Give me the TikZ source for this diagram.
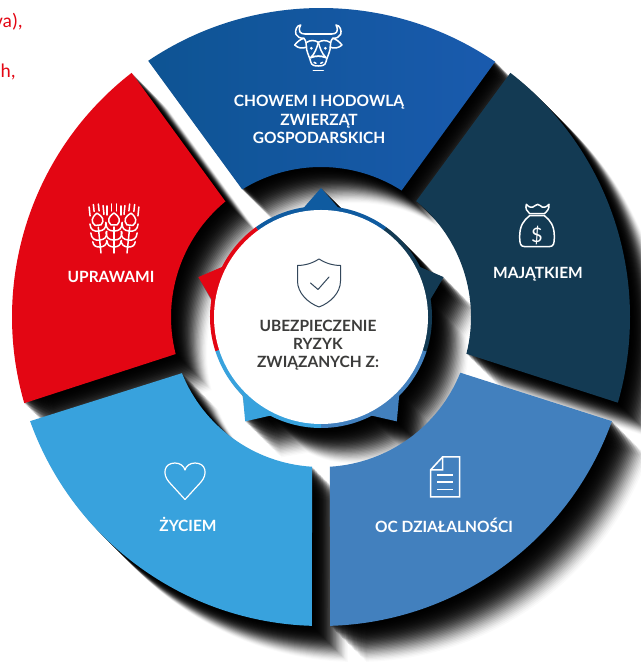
\documentclass[tikz,border=0pt]{standalone}
\usepackage{fontspec}
\setmainfont{Lato}
\newfontfamily\carlito{Carlito}
\definecolor{cred}{HTML}{E30613}
\definecolor{cblue}{HTML}{0F5BA0}
\definecolor{cdark}{HTML}{133A53}
\definecolor{coc}{HTML}{4280BE}
\definecolor{clife}{HTML}{38A2DD}
\definecolor{cink}{HTML}{3C3C3B}
\definecolor{cshield}{HTML}{33475B}
\newcommand\segA{(55.7:309) arc[start angle=55.7,end angle=124,radius=309] -- (121.7:150) arc[start angle=121.7,end angle=57.5,radius=150] -- cycle}
\newcommand\segB{(127.8:309) arc[start angle=127.8,end angle=196.2,radius=309] -- (194.3:150) arc[start angle=194.3,end angle=129.6,radius=150] -- cycle}
\newcommand\segC{(52.2:309) arc[start angle=52.2,end angle=-16.1,radius=309] -- (-14.2:150) arc[start angle=-14.2,end angle=50.6,radius=150] -- cycle}
\newcommand\segD{(199.7:309) arc[start angle=199.7,end angle=268.3,radius=309] -- (266.6:150) arc[start angle=266.6,end angle=202,radius=150] -- cycle}
\newcommand\segE{(-19.7:309) arc[start angle=-19.7,end angle=-88.3,radius=309] -- (-86.6:150) arc[start angle=-86.6,end angle=-21.8,radius=150] -- cycle}
\newcommand\hub{(0,0) circle[radius=111] (80:111) -- (90:129) -- (100:111) -- cycle (152:111) -- (162:129) -- (172:111) -- cycle (8:111) -- (18:129) -- (28:111) -- cycle (224:111) -- (234:129) -- (244:111) -- cycle (296:111) -- (306:129) -- (316:111) -- cycle}
\tikzset{
  softshadow/.style={fill=black,draw=none},
  lineicon/.style={draw=white,line width=1.5pt,line cap=round,line join=round,fill=none},
  label/.style={text=white,font=\fontsize{15.5}{18.5}\selectfont\bfseries,align=center,inner sep=0pt},
  hubtext/.style={text=cink,font=\fontsize{15.5}{18.3}\selectfont\bfseries,align=center,inner sep=0pt},
  redtext/.style={text=cred,font=\carlito\fontsize{19.5}{25}\selectfont,anchor=base east,inner sep=0pt},
}
\begin{document}
\begin{tikzpicture}[x=1pt,y=1pt]
\useasboundingbox (0,0) rectangle (640,666);
\fill[white] (0,0) rectangle (640,666);
\begin{scope}[cm={1,0,0,-1,(0,666)}]
  \node[redtext] (t1) at (23,28) {va),};
  \node[redtext] (t2) at (16,78) {h,};
\end{scope}
\begin{scope}[shift={(321,349)}]
  \foreach \k in {30,29,...,1}{
    \pgfmathsetmacro{\op}{0.018+0.25*(1-\k/30)}
    \begin{scope}[shift={(1.2*\k,-1.2*\k)}]
    \fill[softshadow,fill opacity=\op] \segA;
    \fill[softshadow,fill opacity=\op] \segB;
    \fill[softshadow,fill opacity=\op] \segC;
    \fill[softshadow,fill opacity=\op] \segD;
    \fill[softshadow,fill opacity=\op] \segE;
    \fill[softshadow,fill opacity=\op] \hub;
    \end{scope}
  }
  \fill[cred] \segB;
  \shade[left color=cblue!92!black,right color=cblue!90!blue!95!white] \segA;
  \fill[cdark] \segC;
  \fill[clife] \segD;
  \fill[coc] \segE;
  \fill[cblue] (80:109) -- (90:129) -- (100:109) -- cycle;
  \fill[cred] (152:109) -- (162:129) -- (172:109) -- cycle;
  \fill[cdark] (8:109) -- (18:129) -- (28:109) -- cycle;
  \fill[clife] (224:109) -- (234:129) -- (244:109) -- cycle;
  \fill[coc] (296:109) -- (306:129) -- (316:109) -- cycle;
  \fill[cblue] (0,0) -- (54:111) arc[start angle=54,end angle=126,radius=111] -- cycle;
  \fill[cred] (0,0) -- (126:111) arc[start angle=126,end angle=198,radius=111] -- cycle;
  \fill[clife] (0,0) -- (198:111) arc[start angle=198,end angle=270,radius=111] -- cycle;
  \fill[coc] (0,0) -- (270:111) arc[start angle=270,end angle=342,radius=111] -- cycle;
  \fill[cdark] (0,0) -- (-18:111) arc[start angle=-18,end angle=54,radius=111] -- cycle;
  \fill[white] (0,0) circle[radius=107];
\end{scope}
\begin{scope}[cm={1,0,0,-1,(0,666)}]
  \node[label] (lblue) at (319,119.5) {CHOWEM I HODOWLĄ\\ZWIERZĄT\\GOSPODARSKICH};
  \node[label] (lred) at (111,277) {UPRAWAMI};
  \node[label] (ldark) at (538,274) {MAJĄTKIEM};
  \node[label] (llife) at (188,524.5) {ŻYCIEM};
  \node[label] (loc) at (444,525) {OC DZIAŁALNOŚCI};
  \node[hubtext] (lhub) at (318,345) {UBEZPIECZENIE\\RYZYK\\ZWIĄZANYCH Z:};
  \draw[draw=cshield,line width=1pt,line join=round] (319,259) .. controls (311,264) and (304,265.5) .. (297.5,265.5) -- (297.5,281) .. controls (297.5,293) and (308,303) .. (319,307) .. controls (330,303) and (340.5,293) .. (340.5,281) -- (340.5,265.5) .. controls (334,265.5) and (327,264) .. (319,259) -- cycle;
  \draw[draw=cshield,line width=1pt,line cap=round,line join=round] (310.5,283) -- (318,289.5) -- (329,277);
  \draw[lineicon,line width=1.2pt] (185,499.5) -- (169,482) .. controls (162,474) and (164,463) .. (175,463) .. controls (180,463) and (184,466) .. (185,470) .. controls (186,466) and (190,463) .. (195,463) .. controls (206,463) and (208,474) .. (201,482) -- cycle;
  \draw[lineicon,line cap=butt,line join=miter] (442.5,457) -- (459.5,457) -- (459.5,497) -- (430.5,497) -- (430.5,470) -- cycle (442.5,457) -- (442.5,470) -- (430.5,470);
  \draw[lineicon,line cap=butt] (437,475) -- (453,475) (437,482) -- (453,482) (437,489.5) -- (453,489.5);
  \begin{scope}[shift={(505,195)},scale=1/3]
    \draw[lineicon] (64,28) .. controls (72,38) and (82,40) .. (90,32) .. controls (96,27) and (100,27) .. (106,32) .. controls (112,40) and (124,38) .. (132,28) .. controls (134,40) and (126,50) .. (118,56) -- (74,56) .. controls (66,50) and (60,40) .. (64,28) -- cycle;
    \draw[lineicon] (74,62) -- (118,62) .. controls (136,76) and (148,92) .. (148,125) .. controls (148,146) and (146,155) .. (132,155) -- (60,155) .. controls (46,155) and (44,146) .. (44,125) .. controls (44,92) and (56,76) .. (74,62) -- cycle;
    \node[text=white,inner sep=0pt,font=\fontsize{20}{20}\selectfont] (dollar) at (96,122) {\$};
  \end{scope}
  \begin{scope}[shift={(280,15)},scale=1/3]
    \foreach \sx/\cx in {1/0,-1/230}{
      \begin{scope}[xshift=\cx pt,xscale=\sx]
        \draw[lineicon] (75,57) -- (115,57);
        \draw[lineicon] (75,57) .. controls (62,57) and (52,50) .. (62,30) .. controls (50,30) and (44,48) .. (48,58) .. controls (52,66) and (60,70) .. (72,70);
        \draw[lineicon] (72,70) .. controls (62,72) and (52,80) .. (44,90) .. controls (55,100) and (68,102) .. (80,96);
        \draw[lineicon] (72,70) .. controls (80,78) and (78,92) .. (80,104) .. controls (84,120) and (90,130) .. (92,140) .. controls (94,152) and (105,153) .. (115,153);
        \draw[lineicon] (115,82) .. controls (105,75) and (90,75) .. (80,82);
        \draw[lineicon] (115,82) .. controls (110,100) and (105,115) .. (92,128) .. controls (104,122) and (126,122) .. (138,128);
        \draw[lineicon] (102,142) -- (108,145);
        \fill[white] (94,100) circle[radius=4.5];
        \draw[lineicon] (100,167) -- (115,167);
      \end{scope}
    }
  \end{scope}
  \foreach \ang/\dx in {-6/-13,0/0,6/13}{
    \begin{scope}[shift={(114+\dx,253)},rotate=\ang]
      \draw[lineicon] (0,0) -- (0,-26);
      \draw[lineicon] (-3,-28) .. controls (-7,-32) and (-6,-36) .. (0,-40) .. controls (6,-36) and (7,-32) .. (3,-28) -- cycle;
      \draw[lineicon] (-7,-38) -- (-7,-47) (-2.5,-42) -- (-2.5,-49) (2.5,-42) -- (2.5,-49) (7,-38) -- (7,-47);
      \draw[lineicon] (-8,-30) .. controls (-8,-24) and (-5,-22) .. (0,-22) .. controls (5,-22) and (8,-24) .. (8,-30);
      \draw[lineicon] (-8,-21) .. controls (-8,-15) and (-5,-13) .. (0,-13) .. controls (5,-13) and (8,-15) .. (8,-21);
      \draw[lineicon] (-7,-12) .. controls (-7,-8) and (-4,-6) .. (0,-6) .. controls (4,-6) and (7,-8) .. (7,-12);
    \end{scope}
  }
\end{scope}
\end{tikzpicture}
\end{document}
